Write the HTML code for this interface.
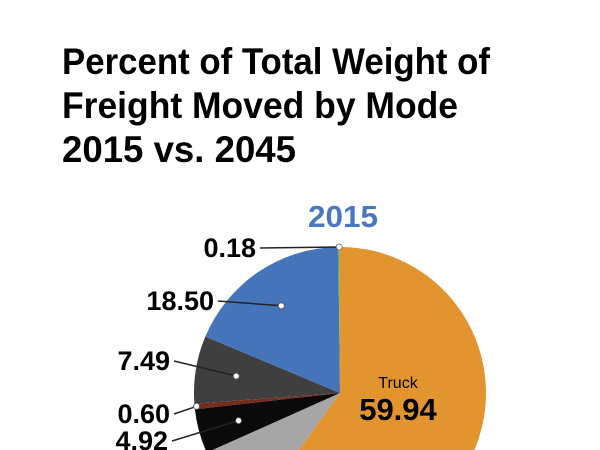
<!DOCTYPE html>
<html><head><meta charset="utf-8"><style>
html,body{margin:0;padding:0;background:#fff;width:600px;height:450px;overflow:hidden;}
svg{display:block;font-family:"Liberation Sans Narrow","Liberation Sans",sans-serif;font-weight:bold;overflow:hidden;}
</style></head><body>
<svg id="chart" width="600" height="450" viewBox="0 0 600 450">
<text x="62" y="74" font-size="37" textLength="428" lengthAdjust="spacingAndGlyphs">Percent of Total Weight of</text>
<text x="62" y="118" font-size="37" textLength="396" lengthAdjust="spacingAndGlyphs">Freight Moved by Mode</text>
<text x="62" y="162" font-size="37" textLength="234" lengthAdjust="spacingAndGlyphs">2015 vs. 2045</text>
<text x="343" y="227" font-size="31" fill="#4a78bf" text-anchor="middle" textLength="70" lengthAdjust="spacingAndGlyphs">2015</text>
<g id="slices"></g>
<g id="labels"></g>
</svg>
<script>
const modes = ["Truck","Other","Pipeline","Rail-Misc","Rail","Water","Air"];
const values = [59.94, 8.37, 4.92, 0.60, 7.49, 18.50, 0.18];
const colors = ["#e2942f","#a6a6a6","#0a0a0a","#7a2a1a","#3f3f3f","#4674bb","#8fbf4a"];
const labelText = ["", "", "4.92", "0.60", "7.49", "18.50", "0.18"];
const labelPos = [null, null, [170,441], [172,414], [172,361], [216,301], [258,248]];
const cx=340, cy=393, r=146;
const ns="http://www.w3.org/2000/svg";
const total=values.reduce((a,b)=>a+b,0);
const sg=document.getElementById('slices'), lg=document.getElementById('labels');
function pt(frac,rad){const a=frac*2*Math.PI;return [cx+rad*Math.sin(a), cy-rad*Math.cos(a)];}
let acc=0;
values.forEach((v,i)=>{
  const s=acc/total, e=(acc+v)/total; acc+=v;
  const p0=pt(s,r), p1=pt(e,r);
  const large=(e-s)>0.5?1:0;
  const path=document.createElementNS(ns,'path');
  path.setAttribute('d',`M${cx},${cy} L${p0[0]},${p0[1]} A${r},${r} 0 ${large} 1 ${p1[0]},${p1[1]} Z`);
  path.setAttribute('fill',colors[i]);
  
  
  sg.appendChild(path);
  if(labelText[i]){
    const mid=(s+e)/2;
    const d=pt(mid, i===6? r : (i===3? r-2 : r*0.72));
    const lp=labelPos[i];
    const ln=document.createElementNS(ns,'line');
    ln.setAttribute('x1',lp[0]+2);ln.setAttribute('y1',lp[1]);ln.setAttribute('x2',d[0]);ln.setAttribute('y2',d[1]);
    ln.setAttribute('stroke','#222');ln.setAttribute('stroke-width','1.5');
    
    
    lg.appendChild(ln);
    const c=document.createElementNS(ns,'circle');
    c.setAttribute('cx',d[0]);c.setAttribute('cy',d[1]);c.setAttribute('r','3');
    c.setAttribute('fill','#fff');c.setAttribute('stroke','#555');c.setAttribute('stroke-width','0.8');
    
    
    lg.appendChild(c);
    const t=document.createElementNS(ns,'text');
    t.setAttribute('x',lp[0]-2);t.setAttribute('y',lp[1]+9);
    t.setAttribute('text-anchor','end');t.setAttribute('font-size','27');
    t.textContent=labelText[i];
    
    
    lg.appendChild(t);
  }
});
const tl=document.createElementNS(ns,'text');
tl.setAttribute('x','398');tl.setAttribute('y','388');tl.setAttribute('text-anchor','middle');
tl.setAttribute('font-size','16');tl.setAttribute('font-weight','normal');tl.textContent=modes[0];


lg.appendChild(tl);
const tv=document.createElementNS(ns,'text');
tv.setAttribute('x','398');tv.setAttribute('y','420');tv.setAttribute('text-anchor','middle');
tv.setAttribute('font-size','31');tv.textContent=values[0].toFixed(2);


lg.appendChild(tv);
</script>
</body></html>
